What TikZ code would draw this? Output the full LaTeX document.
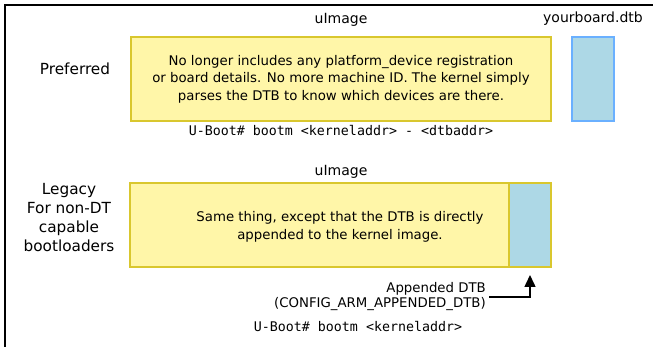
\documentclass[tikz,border=0pt]{standalone}
\usepackage{fontspec}
\setmainfont{DejaVu Sans}
\setmonofont{DejaVu Sans Mono}
\usetikzlibrary{arrows.meta}
\definecolor{kernelfill}{HTML}{FFF6A8}
\definecolor{kerneledge}{HTML}{D9C72E}
\definecolor{dtbfill}{HTML}{ADD8E6}
\definecolor{dtbedge}{HTML}{6AB0FF}
\tikzset{
  kernel/.style={draw=kerneledge, fill=kernelfill, line width=1.5pt},
  dtbbox/.style={draw=dtbedge, fill=dtbfill, line width=1.5pt},
  dtbin/.style={draw=kerneledge, fill=dtbfill, line width=1.5pt},
  lbl/.style={inner sep=0pt, font=\fontsize{13.3}{15}\selectfont},
  title/.style={inner sep=0pt, font=\fontsize{14}{15}\selectfont},
  side/.style={inner sep=0pt, align=center, font=\fontsize{15.3}{19}\selectfont},
  body/.style={inner sep=0pt, align=center, font=\fontsize{13.3}{17.5}\selectfont},
  cmd/.style={inner sep=0pt, font=\ttfamily\fontsize{13.3}{15}\selectfont},
}
\begin{document}
\begin{tikzpicture}[x=1pt, y=-1pt]
\useasboundingbox (0,0) rectangle (653,347);
% outer frame (top and left edges)
\draw[line width=2pt] (653,5) -- (5,5) -- (5,347);

% preferred layout: kernel image and separate DTB
\node[kernel, minimum width=420pt, minimum height=84pt, inner sep=0pt] (k1) at (341,79) {};
\node[body] (t1) at (341,79) {No longer includes any platform\_device registration\\or board details. No more machine ID. The kernel simply\\parses the DTB to know which devices are there.};
\node[dtbbox, minimum width=42pt, minimum height=84pt, inner sep=0pt] (d1) at (593,79) {};
\node[title] (u1) at (341,20) {uImage};
\node[title] (yb) at (593,19) {yourboard.dtb};
\node[side] (pref) at (75,69) {Preferred};
\node[cmd] (c1) at (341,131) {U-Boot\# bootm <kerneladdr> - <dtbaddr>};

% legacy layout: DTB appended to the kernel image
\node[kernel, minimum width=421pt, minimum height=84pt, inner sep=0pt] (k2) at (340.5,225) {};
\node[dtbin, minimum width=42pt, minimum height=84pt, inner sep=0pt] (d2) at (530,225) {};
\node[body, align=center] (t2) at (340,227) {Same thing, except that the DTB is directly\\appended to the kernel image.};
\node[title] (u2) at (341,172) {uImage};
\node[side] (leg) at (69,218) {Legacy\\For non-DT\\capable\\bootloaders};
\node[lbl, align=right, anchor=east, font=\fontsize{13.3}{15}\selectfont] (app) at (486,297) {Appended DTB\\(CONFIG\_ARM\_APPENDED\_DTB)};
\coordinate (bend) at (530,297);
\draw[line width=1.5pt, -{Triangle[length=12pt,width=11pt]}] (489,297) -- (bend) -- (d2.south |- 0,275);
\node[cmd] (c2) at (358,327) {U-Boot\# bootm <kerneladdr>};
\end{tikzpicture}
\end{document}
